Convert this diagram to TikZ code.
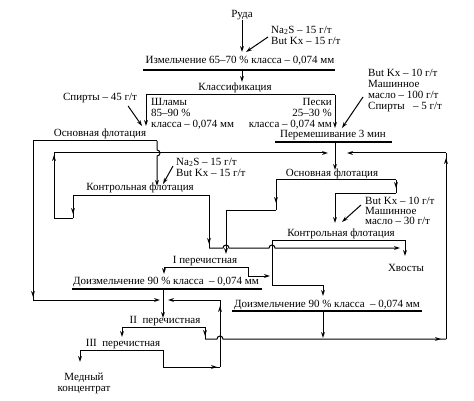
\documentclass[tikz,border=0pt]{standalone}
\usepackage{fontspec}
\setmainfont{Liberation Serif}
\usetikzlibrary{arrows.meta,decorations.markings,calc}

\tikzset{
  flow/.style={line width=1pt},
  bar/.style={line width=1.7pt},
  arr/.style={-{Stealth[length=6pt,width=3.8pt]}},
  tipend/.style={postaction={decorate},
    decoration={markings,mark=at position -#1 with {\arrow{Stealth[length=6pt,width=3.8pt]}}}},
  lbl/.style={inner sep=0pt,font=\fontsize{11}{11}\selectfont},
  reag/.style={lbl,align=left,anchor=west},
}

\begin{document}
\begin{tikzpicture}[x=1pt,y=-1pt]
  \useasboundingbox (0,0) rectangle (474,401);

  % labels
  \node[lbl] (ruda) at (242,15) {Руда};
  \node[reag] (re1) at (271,35) {Na\textsubscript{2}S -- 15 г/т\\But Kx -- 15 г/т};
  \node[lbl] (izm) at (240,61) {Измельчение 65--70 \% класса -- 0,074 мм};
  \node[lbl] (klass) at (235,88) {Классификация};
  \node[lbl,align=left,anchor=west] (shl) at (151,114) {Шламы\\85--90 \%\\класса -- 0,074 мм};
  \node[lbl,align=right,anchor=east] (pes) at (332,114) {Пески\\25--30 \%\\класса -- 0,074 мм};
  \node[lbl] (re2) at (100,98) {Спирты -- 45 г/т};
  \node[lbl] (osn1) at (100,134) {Основная флотация};
  \node[reag] (re3) at (368,91) {But Kx -- 10 г/т\\Машинное\\масло -- 100 г/т\\Спирты~~~-- 5 г/т};
  \node[lbl] (per) at (333,135) {Перемешивание 3 мин};
  \node[reag] (re4) at (176,167) {Na\textsubscript{2}S -- 15 г/т\\But Kx -- 15 г/т};
  \node[lbl] (osn2) at (332,174) {Основная флотация};
  \node[lbl] (kon1) at (140,188) {Контрольная флотация};
  \node[reag,font=\fontsize{11}{10}\selectfont] (re5) at (365,211) {But Kx -- 10 г/т\\Машинное\\масло -- 30 г/т};
  \node[lbl] (kon2) at (341,234) {Контрольная флотация};
  \node[lbl] (hv) at (406,268) {Хвосты};
  \node[lbl] (per1) at (205,261) {I перечистная};
  \node[lbl] (doiz1) at (166,282) {Доизмельчение 90 \% класса~~-- 0,074 мм};
  \node[lbl] (doiz2) at (327,305) {Доизмельчение 90 \% класса~~-- 0,074 мм};
  \node[lbl] (per2) at (165,321) {II~~перечистная};
  \node[lbl] (per3) at (123,344) {III~~перечистная};
  \node[lbl,align=center] (med) at (84,383) {Медный\\концентрат};

  % operation bars
  \draw[bar]  (143,70) coordinate (izmL) -- (335,70) coordinate (izmR);
  \draw[flow] (146,95) coordinate (klL) -- (335,95) coordinate (klR);
  \draw[flow] (33,141) coordinate (osn1L) -- (157,141) coordinate (osn1R);
  \draw[bar]  (275,142) coordinate (perL) -- (392,142) coordinate (perR);
  \draw[flow] (276,180) coordinate (osn2L) -- (396,180) coordinate (osn2R);
  \draw[flow] (73,195) coordinate (kon1L) -- (209,195) coordinate (kon1R);
  \draw[flow] (272,240) coordinate (kon2L) -- (405,240) coordinate (kon2R);
  \draw[flow] (164,267) coordinate (per1L) -- (248,267) coordinate (per1R);
  \draw[bar]  (72,289) coordinate (doiz1L) -- (262,289) coordinate (doiz1R);
  \draw[bar]  (232,311) coordinate (doiz2L) -- (422,311) coordinate (doiz2R);
  \draw[flow] (122,327) coordinate (per2L) -- (205,327) coordinate (per2R);
  \draw[flow] (80,350) coordinate (per3L) -- (163,350) coordinate (per3R);

  \coordinate (mix) at (335,153);
  \coordinate (feed2) at (163,300);

  % ore, grinding, classification
  \draw[flow,arr] (ruda.south) -- ++(0,32);
  \draw[flow,arr] (re1.west) ++(-3,2) -- ++(-22,15);
  \draw[flow,arr] (izmL) ++(99,0) -- ++(0,12);
  \draw[flow,arr] (klL) -- ++(0,31);
  \draw[flow,arr] (klR) -- ++(0,33);
  \draw[flow,arr] (re2.south east) ++(-9,3) -- ++(14,20);
  \draw[flow,arr] (re3.west) ++(-5,6) -- ++(-21,31);
  \draw[flow,arr] (perL) ++(60,0) -- ++(0,28);

  % slimes circuit
  \draw[flow,tipend=3pt] (osn1L) -- ++(0,159) coordinate (c1);
  \draw[flow,arr] (c1) -- ($(feed2)+(-3,0)$);
  \draw[flow,arr] (osn1R) -- ++(0,9) arc[start angle=270,end angle=450,radius=3] -- ++(0,30);
  \draw[flow,arr] (re4.west) ++(-3,-1) -- ++(-10,18);
  \draw[flow,tipend=4pt] (kon1L) -- ++(0,23) coordinate (c2);
  \draw[flow,tipend=2pt] (c2) -- ++(-19,0) -- ++(0,-65) coordinate (c3);
  \draw[flow,arr] (c3) -- ($(mix)+(-7,0)$);
  \draw[flow,tipend=4pt] (kon1R) -- ++(0,53) coordinate (c4);
  \draw[flow,arr] (c4) -- ++(14,0) arc[start angle=180,end angle=360,radius=3]
    -- ++(40,0) arc[start angle=180,end angle=360,radius=3] -- ++(125,0);

  % sands circuit
  \draw[flow,tipend=7pt] (osn2L) -- ++(0,30) coordinate (c5);
  \draw[flow,arr] (c5) -- ++(-50,0) -- ++(0,44);
  \draw[flow,tipend=5pt] (osn2R) -- ++(0,13) coordinate (c6);
  \draw[flow,arr] (c6) -- ++(-61,0) -- ++(0,30);
  \draw[flow,arr] (re5.west) ++(-4,-6) -- ++(-19,17);
  \draw[flow,arr] (kon2R) -- ++(0,16);
  \draw[flow,arr] (kon2L) -- ++(0,45) -- ++(51,0) -- ++(0,11);

  % cleaning
  \draw[flow,arr] (per1L) -- ++(0,7);
  \draw[flow,arr] (per1R) -- ++(0,9) -- ++(22,0);
  \draw[flow,arr] (doiz1L) ++(91,0) -- ++(0,29);
  \draw[flow,arr] (doiz2L) ++(91,0) -- ++(0,27);
  \draw[flow,arr] (per2L) -- ++(0,10);
  \draw[flow,tipend=3pt] (per2R) -- ++(0,12) coordinate (c7);
  \draw[flow,tipend=5pt] (c7) -- ++(12,0) arc[start angle=180,end angle=360,radius=3]
    -- ++(223,0) coordinate (c8);
  \draw[flow,tipend=5pt] (c8) -- ++(0,-186) coordinate (c9);
  \draw[flow,arr] (c9) -- ($(mix)+(12,0)$);
  \draw[flow,arr] (per3L) -- ++(0,12);
  \draw[flow,tipend=3pt] (per3R) -- ++(0,17) -- ++(57,0) coordinate (c10);
  \draw[flow,tipend=6pt] (c10) -- ++(0,-67) coordinate (c11);
  \draw[flow,arr] (c11) -- ($(feed2)+(5,0)$);
\end{tikzpicture}
\end{document}
